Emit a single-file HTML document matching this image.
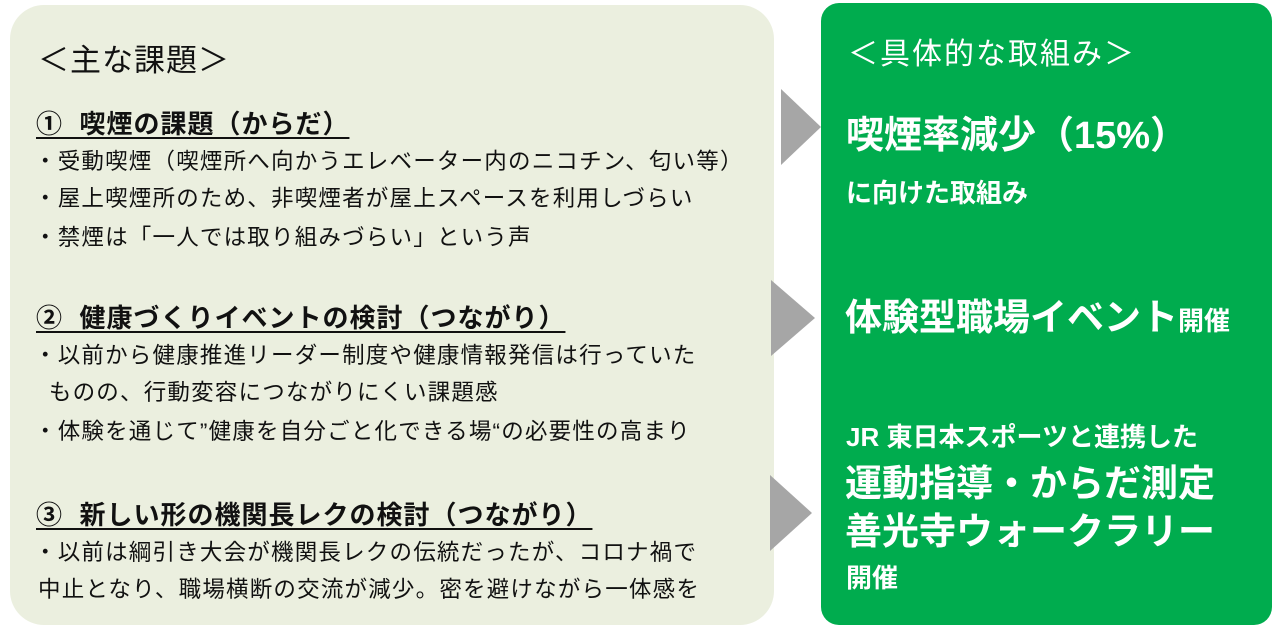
<!DOCTYPE html>
<html><head><meta charset="utf-8"><style>
body{margin:0;width:1280px;height:630px;background:#fff;position:relative;overflow:hidden;font-family:"Liberation Sans","Noto Sans CJK JP",sans-serif;}
.l{position:absolute;left:10px;top:5px;width:764px;height:620px;background:#ebefdf;border-radius:34px;}
.r{position:absolute;left:821px;top:3px;width:451px;height:622px;background:#00ac4e;border-radius:18px;}
.t{position:absolute;white-space:nowrap;line-height:1;color:#111;}
.w{color:#fff;font-weight:bold;}
.h{font-size:26px;font-weight:bold;text-decoration:underline;text-underline-offset:4px;letter-spacing:1px;}
.b{font-size:22.5px;letter-spacing:1.2px;}
</style></head><body>
<div class="l"></div><div class="r"></div>
<svg style="position:absolute;left:0;top:0" width="1280" height="630">
<polygon points="781,89 821,127 781,165" fill="#a6a6a6"/>
<polygon points="771,280 815,318 771,356" fill="#a6a6a6"/>
<polygon points="770,475 812,513 770,551" fill="#a6a6a6"/>
</svg>
<div class="t" style="left:38px;top:45px;font-size:31px;letter-spacing:1px">＜主な課題＞</div>
<div class="t h" style="left:36px;top:111px">①&nbsp; 喫煙の課題（からだ）</div>
<div class="t b" style="left:34px;top:151px">・受動喫煙（喫煙所へ向かうエレベーター内のニコチン、匂い等）</div>
<div class="t b" style="left:34px;top:188px">・屋上喫煙所のため、非喫煙者が屋上スペースを利用しづらい</div>
<div class="t b" style="left:34px;top:227px">・禁煙は「一人では取り組みづらい」という声</div>
<div class="t h" style="left:36px;top:305px">②&nbsp; 健康づくりイベントの検討（つながり）</div>
<div class="t b" style="left:34px;top:345px">・以前から健康推進リーダー制度や健康情報発信は行っていた</div>
<div class="t b" style="left:34px;top:382px">&nbsp;&nbsp;ものの、行動変容につながりにくい課題感</div>
<div class="t b" style="left:34px;top:421px">・体験を通じて”健康を自分ごと化できる場“の必要性の高まり</div>
<div class="t h" style="left:36px;top:502px">③&nbsp; 新しい形の機関長レクの検討（つながり）</div>
<div class="t b" style="left:34px;top:542px">・以前は綱引き大会が機関長レクの伝統だったが、コロナ禍で</div>
<div class="t b" style="left:38px;top:579px">中止となり、職場横断の交流が減少。密を避けながら一体感を</div>
<div class="t w" style="left:848px;top:40px;font-size:30px;font-weight:normal;letter-spacing:2px">＜具体的な取組み＞</div>
<div class="t w" style="left:846px;top:117px;font-size:38px">喫煙率減少（15%）</div>
<div class="t w" style="left:846px;top:180px;font-size:26px">に向けた取組み</div>
<div class="t w" style="left:845px;top:299px;font-size:37px">体験型職場イベント<span style="font-size:26px">開催</span></div>
<div class="t w" style="left:846px;top:424px;font-size:26px">JR 東日本スポーツと連携した</div>
<div class="t w" style="left:845px;top:465px;font-size:37px">運動指導・からだ測定</div>
<div class="t w" style="left:845px;top:513px;font-size:37px">善光寺ウォークラリー</div>
<div class="t w" style="left:846px;top:565px;font-size:26px">開催</div>
</body></html>
